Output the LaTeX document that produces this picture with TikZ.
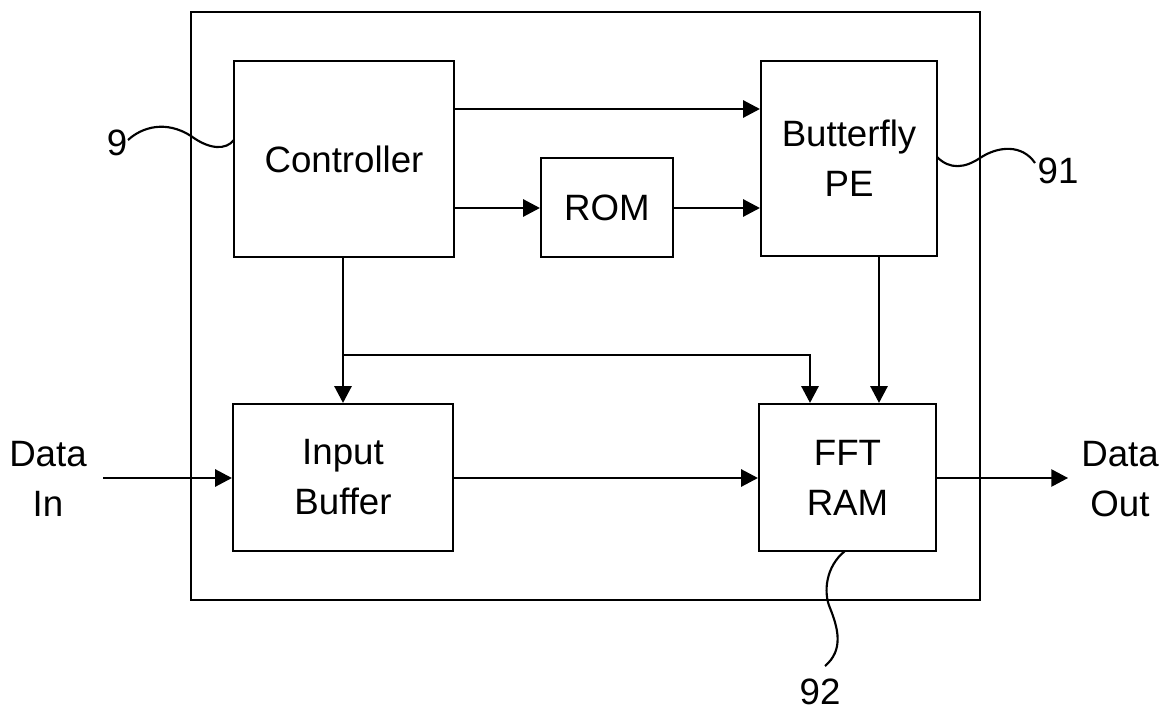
\documentclass[tikz,border=0pt]{standalone}
\usepackage{fontspec}
\setmainfont{Liberation Sans}
\usetikzlibrary{arrows.meta}
\tikzset{
  blk/.style={draw, line width=1.7pt, rectangle, inner sep=0pt, align=center,
    font=\fontsize{27.5}{37.5}\selectfont},
  lbl/.style={inner sep=0pt, align=center, font=\fontsize{27.5}{37.5}\selectfont},
  arr/.style={line width=1pt, -{Triangle[length=12.5pt,width=13pt]}},
  lead/.style={line width=1.6pt},
}
\begin{document}
\begin{tikzpicture}[x=0.75pt,y=-0.75pt]
\useasboundingbox (0,0) rectangle (1163,713);
% outer box
\draw[line width=1.8pt] (191,12) rectangle (980,600);
% blocks
\node[blk, minimum width=220*0.75pt, minimum height=196*0.75pt] (ctrl) at (344,159) {Controller};
\node[blk, minimum width=132*0.75pt, minimum height=99*0.75pt] (rom) at (607,207.5) {ROM};
\node[blk, minimum width=176*0.75pt, minimum height=195*0.75pt] (bf) at (849,158.5) {Butterfly\\PE};
\node[blk, minimum width=220*0.75pt, minimum height=147*0.75pt] (ib) at (343,477.5) {Input\\Buffer};
\node[blk, minimum width=177*0.75pt, minimum height=147*0.75pt] (fft) at (847.5,477.5) {FFT\\RAM};
% labels
\node[lbl] (din) at (48,479) {Data\\In};
\node[lbl] (dout) at (1120,479) {Data\\Out};
\node[lbl] (n9) at (117,143) {9};
\node[lbl] (n91) at (1058,171) {91};
\node[lbl, anchor=base, text depth=0pt] (n92) at (820,704) {92};
% helper coordinates
\coordinate (y109) at (0,109);
\coordinate (y208) at (0,208);
\coordinate (x810) at (810,0);
\coordinate (x879) at (879,0);
\coordinate (br) at (343,355);
\coordinate (inS) at (103,478);
\coordinate (outE) at (1068,478);
% connectors
\draw[arr] (ctrl.east |- y109) -- (bf.west |- y109);
\draw[arr] (ctrl.east |- y208) -- (rom.west |- y208);
\draw[arr] (rom.east |- y208) -- (bf.west |- y208);
\draw[arr] (ctrl.south -| br) -- (ib.north -| br);
\draw[arr] (br) -| (fft.north -| x810);
\draw[arr] (bf.south -| x879) -- (fft.north -| x879);
\draw[arr] (inS) -- (ib.west |- inS);
\draw[arr] (ib.east |- inS) -- (fft.west |- inS);
\draw[arr] (fft.east |- outE) -- (outE);
% leaders
\coordinate (l9a) at (128,140);
\coordinate (l9b) at (234,140);
\draw[lead] (l9a) .. controls (142,127) and (166,120) .. (191,136)
  .. controls (210,150) and (226,150) .. (l9b);
\coordinate (l91a) at (937,157);
\coordinate (l91b) at (1035,163);
\draw[lead] (l91a) .. controls (950,170) and (965,168) .. (980,158)
  .. controls (998,146) and (1022,144) .. (l91b);
\coordinate (l92a) at (845,551);
\coordinate (l92b) at (825,666);
\draw[lead] (l92a) .. controls (826,566) and (823,592) .. (830,608)
  .. controls (838,628) and (844,650) .. (l92b);
\end{tikzpicture}
\end{document}
